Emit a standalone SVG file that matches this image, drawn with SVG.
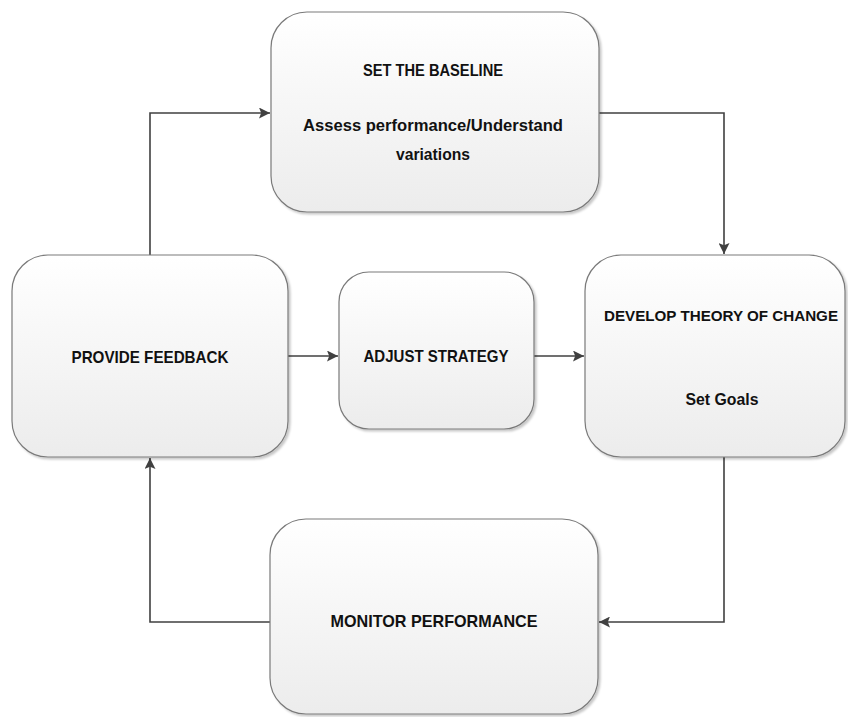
<svg xmlns="http://www.w3.org/2000/svg" width="848" height="717" viewBox="0 0 848 717">
<defs>
<linearGradient id="g" x1="0" y1="0" x2="0" y2="1">
<stop offset="0" stop-color="#ffffff"/>
<stop offset="1" stop-color="#ececec"/>
</linearGradient>
<filter id="sh" x="-5%" y="-5%" width="115%" height="115%">
<feDropShadow dx="2" dy="2" stdDeviation="1.2" flood-color="#000" flood-opacity="0.22"/>
</filter>
<marker id="a" viewBox="0 0 10 10" refX="10" refY="5" markerWidth="11" markerHeight="11" markerUnits="userSpaceOnUse" orient="auto">
<path d="M0,0 L10,5 L0,10 L2,5 Z" fill="#404040"/>
</marker>
</defs>
<style>
.box{fill:url(#g);stroke:#7a7a7a;stroke-width:1.2;filter:url(#sh)}
.t{font-family:"Liberation Sans",Arial,sans-serif;font-weight:bold;font-size:17px;fill:#111;text-anchor:middle}
.c{fill:none;stroke:#404040;stroke-width:1.6;marker-end:url(#a)}
</style>
<rect width="848" height="717" fill="#fff"/>
<g id="connectors">
<path class="c" d="M150,255 V113 H270"/>
<path class="c" d="M599,113 H724 V254"/>
<path class="c" d="M724,457 V622 H599"/>
<path class="c" d="M270,622 H150 V458"/>
<path class="c" d="M288,356 H338"/>
<path class="c" d="M534,356 H584"/>
</g>
<g id="set-baseline">
<rect class="box" x="271" y="12" width="328" height="200" rx="36"/>
<text class="t" x="433" y="76" textLength="140" lengthAdjust="spacingAndGlyphs">SET THE BASELINE</text>
<text class="t" x="433" y="131" textLength="260" lengthAdjust="spacingAndGlyphs">Assess performance/Understand</text>
<text class="t" x="433" y="160" textLength="74" lengthAdjust="spacingAndGlyphs">variations</text>
</g>
<g id="provide-feedback">
<rect class="box" x="12" y="255" width="276" height="202" rx="36"/>
<text class="t" x="150" y="363" textLength="157" lengthAdjust="spacingAndGlyphs">PROVIDE FEEDBACK</text>
</g>
<g id="adjust-strategy">
<rect class="box" x="339" y="272" width="195" height="157" rx="30"/>
<text class="t" x="436" y="362" textLength="145" lengthAdjust="spacingAndGlyphs">ADJUST STRATEGY</text>
</g>
<g id="develop-theory">
<rect class="box" x="585" y="255" width="260" height="202" rx="36"/>
<text class="t" x="721" y="321" style="font-size:15.5px" textLength="234" lengthAdjust="spacingAndGlyphs">DEVELOP THEORY OF CHANGE</text>
<text class="t" x="722" y="405" textLength="73" lengthAdjust="spacingAndGlyphs">Set Goals</text>
</g>
<g id="monitor-performance">
<rect class="box" x="270" y="519" width="328" height="195" rx="36"/>
<text class="t" x="434" y="627" textLength="207" lengthAdjust="spacingAndGlyphs">MONITOR PERFORMANCE</text>
</g>
</svg>
